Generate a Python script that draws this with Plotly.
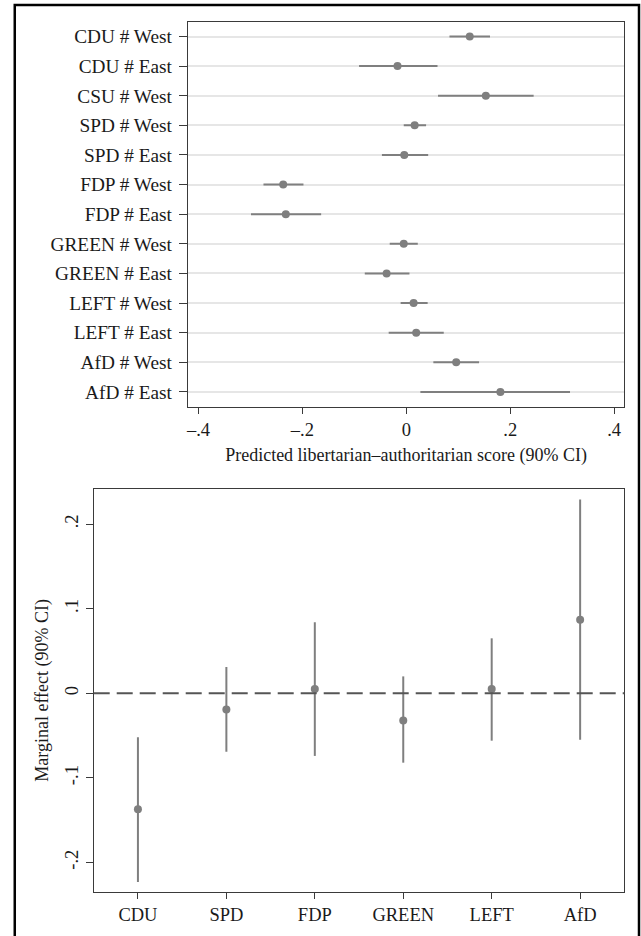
import plotly.graph_objects as go
import numpy as np

# ---- Top panel data: predicted libertarian-authoritarian score (90% CI)
groups = ["CDU # West", "CDU # East", "CSU # West", "SPD # West", "SPD # East",
          "FDP # West", "FDP # East", "GREEN # West", "GREEN # East",
          "LEFT # West", "LEFT # East", "AfD # West", "AfD # East"]
pred = [0.122, -0.017, 0.153, 0.016, -0.004, -0.237, -0.232, -0.005, -0.038,
        0.014, 0.019, 0.096, 0.181]
pred_lo = [0.083, -0.091, 0.061, -0.005, -0.047, -0.275, -0.299, -0.032, -0.080,
           -0.011, -0.034, 0.052, 0.027]
pred_hi = [0.161, 0.060, 0.245, 0.038, 0.042, -0.198, -0.164, 0.022, 0.006,
           0.041, 0.072, 0.140, 0.315]
top_ticks = [-0.4, -0.2, 0, 0.2, 0.4]
top_ticktext = ["\u2013.4", "\u2013.2", "0", ".2", ".4"]

# ---- Bottom panel data: marginal effect (90% CI)
parties = ["CDU", "SPD", "FDP", "GREEN", "LEFT", "AfD"]
me = [-0.137, -0.019, 0.005, -0.032, 0.005, 0.087]
me_lo = [-0.223, -0.069, -0.074, -0.082, -0.056, -0.055]
me_hi = [-0.052, 0.031, 0.084, 0.020, 0.065, 0.229]
bot_ticks = [-0.2, -0.1, 0, 0.1, 0.2]
bot_ticktext = ["-.2", "-.1", "0", ".1", ".2"]

W, H = 641, 936
GRAY = "#7f7f7f"
TXT = "#1a1a1a"
AX = "#3a3a3a"
FONT = "Liberation Serif"

fig = go.Figure()

p = np.array(pred); lo = np.array(pred_lo); hi = np.array(pred_hi)
fig.add_trace(go.Scatter(
    x=p, y=groups, mode="markers", xaxis="x", yaxis="y",
    marker=dict(size=8, color=GRAY),
    error_x=dict(type="data", symmetric=False, array=hi - p, arrayminus=p - lo,
                 width=0, thickness=2, color=GRAY),
    showlegend=False, hoverinfo="skip"))

m = np.array(me); mlo = np.array(me_lo); mhi = np.array(me_hi)
fig.add_trace(go.Scatter(
    x=parties, y=m, mode="markers", xaxis="x2", yaxis="y2",
    marker=dict(size=8, color=GRAY),
    error_y=dict(type="data", symmetric=False, array=mhi - m, arrayminus=m - mlo,
                 width=0, thickness=2, color=GRAY),
    showlegend=False, hoverinfo="skip"))

def px_x(a, b):
    return [a / W, b / W]

def px_y(top, bottom):
    return [1 - bottom / H, 1 - top / H]

axis_common = dict(showline=True, mirror=True, linecolor=AX, linewidth=1.2,
                   ticks="outside", tickcolor=AX, tickwidth=1,
                   zeroline=False)

fig.update_layout(
    width=W, height=H,
    margin=dict(l=0, r=0, t=0, b=0),
    paper_bgcolor="white", plot_bgcolor="white",
    font=dict(family=FONT, color=TXT, size=18),
    xaxis=dict(domain=px_x(186.4, 624.3), anchor="y",
               range=[-0.4206, 0.4196], tickvals=top_ticks, ticktext=top_ticktext,
               ticklen=6, showgrid=False,
               tickfont=dict(family=FONT, size=18.5, color=TXT),
               title=dict(text="Predicted libertarian\u2013authoritarian score (90% CI)",
                          font=dict(family=FONT, size=18, color=TXT), standoff=9),
               **axis_common),
    yaxis=dict(domain=px_y(21.7, 406.7), anchor="x", type="category",
               categoryorder="array", categoryarray=groups,
               range=[12.5, -0.5], ticklen=8, ticklabelstandoff=3,
               tickfont=dict(family=FONT, size=19.3, color=TXT),
               showgrid=True, gridcolor="#e6e6e6", gridwidth=2,
               **axis_common),
    xaxis2=dict(domain=px_x(92, 624.3), anchor="y2", type="category",
                categoryorder="array", categoryarray=parties,
                range=[-0.5, 5.5], ticklen=6, showgrid=False,
                tickfont=dict(family=FONT, size=18.5, color=TXT),
                **axis_common),
    yaxis2=dict(domain=px_y(489, 891.7), anchor="x2",
                range=[-0.2345, 0.2415], tickvals=bot_ticks, ticktext=bot_ticktext,
                tickangle=-90, ticklen=7, showgrid=False, ticklabelstandoff=0,
                tickfont=dict(family=FONT, size=18.5, color=TXT),
                title=dict(text="Marginal effect (90% CI)",
                           font=dict(family=FONT, size=18, color=TXT), standoff=8),
                **axis_common),
)

# dashed reference line at zero in bottom panel
fig.add_shape(type="line", xref="x2 domain", yref="y2", x0=0, x1=1, y0=0, y1=0,
              line=dict(color="#555555", width=2, dash="16px,7px"), layer="above")

# outer black frame
fig.add_shape(type="rect", xref="paper", yref="paper",
              x0=12.8 / W, x1=639 / W, y0=-0.02, y1=1 - 5 / H,
              line=dict(color="black", width=2.5), fillcolor="rgba(0,0,0,0)")

fig.write_html("out.html", config={"displayModeBar": False},
               post_script="document.body.style.margin='0';document.body.style.overflow='hidden';")
